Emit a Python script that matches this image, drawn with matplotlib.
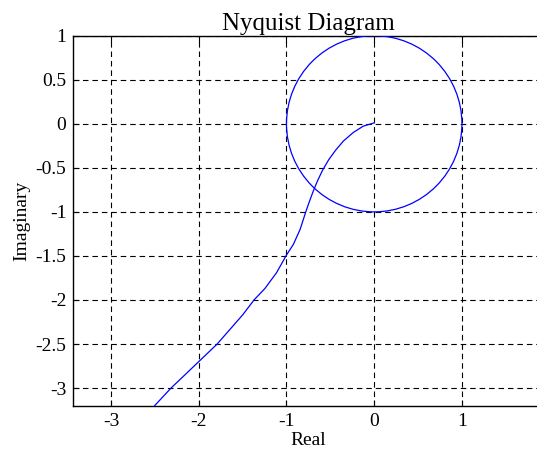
import matplotlib
matplotlib.use('Agg')
from matplotlib import pyplot as plt
from matplotlib.patches import Circle

# values
curve_re = [0.0, -0.125, -0.24, -0.35, -0.44, -0.52, -0.59, -0.645, -0.695, -0.745, -0.78,
            -0.845, -0.922, -1.0, -1.113, -1.246, -1.37, -1.5, -1.79, -2.0, -2.316, -2.503]
curve_im = [0.01, -0.027, -0.10, -0.195, -0.30, -0.41, -0.53, -0.645, -0.765, -0.9, -1.0,
            -1.2, -1.37, -1.49, -1.69, -1.87, -2.0, -2.17, -2.5, -2.7, -3.0, -3.2]
circle_center = (0.0, 0.0)
circle_radius = 1.0

x_ticks = [-3, -2, -1, 0, 1]
y_ticks = [-3, -2.5, -2, -1.5, -1, -0.5, 0, 0.5, 1]
y_tick_labels = ['-3', '-2.5', '-2', '-1.5', '-1', '-0.5', '0', '0.5', '1']

plt.rcParams['font.family'] = ['Liberation Serif', 'DejaVu Serif']

fig = plt.figure(figsize=(5.37, 4.55), dpi=100)
ax = fig.add_axes([0.1365, 0.1084, 0.875, 0.8132])

ax.add_patch(Circle(circle_center, circle_radius, fill=False, edgecolor='#0000ff', lw=0.9, zorder=3))
ax.plot(curve_re, curve_im, color='#0000ff', lw=0.9, zorder=3)

ax.set_xlim(-3.43, 1.926)
ax.set_ylim(-3.2, 1)
ax.set_xticks(x_ticks)
ax.set_xticklabels([str(t) for t in x_ticks])
ax.set_yticks(y_ticks)
ax.set_yticklabels(y_tick_labels)
ax.tick_params(direction='in', length=4, width=0.8, labelsize=14, top=True, right=True, pad=5)
ax.grid(True, color='black', linestyle=(0, (5, 3.5)), lw=0.8)

for s in ax.spines.values():
    s.set_linewidth(1.0)

ax.set_title('Nyquist Diagram', fontsize=18, pad=4)
ax.set_xlabel('Real', fontsize=14, labelpad=2)
ax.set_ylabel('Imaginary', fontsize=14, labelpad=4)

fig.savefig('out.png', dpi=100)
